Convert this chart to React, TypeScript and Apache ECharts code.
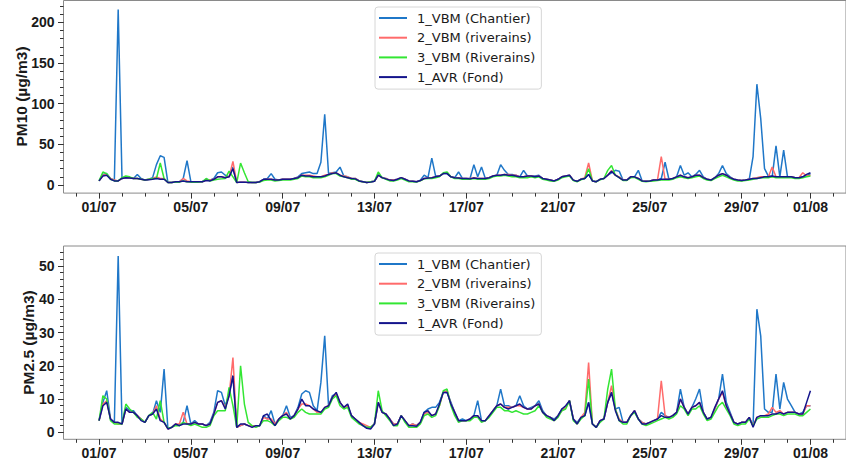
import React, { useEffect, useRef } from "react";
import * as echarts from "echarts";

// 4-hour samples (6 per day) from 01/07 00:00 to 01/08 00:00 (187 values)
const seriesNames = ["1_VBM (Chantier)", "2_VBM (riverains)", "3_VBM (Riverains)", "1_AVR (Fond)"];
const seriesColors = ["#1f77c8", "#ff6b6b", "#33e633", "#14148c"];

const xTickDays = [0, 4, 8, 12, 16, 20, 24, 28, 31];
const xTickLabels = ["01/07", "05/07", "09/07", "13/07", "17/07", "21/07", "25/07", "29/07", "01/08"];
const pm10Ticks = [0, 50, 100, 150, 200];
const pm25Ticks = [0, 10, 20, 30, 40, 50];

const pm10_vbm1 = [
  5, 13, 14, 8, 6, 216,
  8, 9, 9, 8, 13, 8,
  6, 7, 9, 25, 36, 34,
  3, 3, 4, 4, 8, 30,
  4, 4, 4, 4, 7, 6,
  8, 15, 16, 12, 10, 22,
  3, 3.5, 3.5, 3, 3, 3,
  4, 7, 8, 14, 7, 6,
  7, 7, 7, 8, 10, 14,
  15, 16, 14, 14, 28, 87,
  14, 15, 16, 22, 11, 10,
  8, 8, 5, 4, 3, 4,
  4.5, 12, 9, 8, 6, 6,
  7, 9, 7, 5, 4.5, 4,
  6, 12, 9, 33, 11, 11,
  14, 14, 10, 9, 16, 8,
  8, 8, 25, 10, 22, 8,
  9, 11, 12, 25, 18, 13,
  13, 12, 10, 18, 11, 11,
  11, 12, 8, 7, 6, 5,
  7, 10, 11, 12, 6, 4.5,
  7, 8, 13, 5, 4, 7,
  8, 12, 15, 18, 17, 6,
  6, 10, 10, 18, 5, 4.5,
  5, 6, 6, 8, 28, 7,
  8, 10, 24, 12, 15, 10,
  13, 18, 10, 7, 6, 9,
  14, 24, 14, 10, 7, 6,
  5.5, 6, 7, 35, 124, 82,
  20, 11, 10, 48, 10, 43,
  10, 10, 9, 9, 10, 11,
  14,
];
const pm10_vbm2 = [
  5, 12, 13, 8, 6, 5,
  8, 9, 9, 8, 8, 7,
  6, 7, 8, 10, 8, 8,
  3, 3, 4, 4, 8, 5,
  4, 4, 4, 4, 6, 6,
  7, 10, 10, 9, 10, 29,
  3, 3.5, 3.5, 3, 3, 3,
  4, 6.5, 7, 7, 6, 6,
  7, 7, 7, 8, 9, 12,
  12, 12, 11, 10, 10, 12,
  13, 15, 15, 12, 11, 10,
  8, 8, 5, 4, 3, 4,
  4.5, 12, 9, 8, 6, 6,
  7, 9, 7, 5, 4.5, 4,
  5.5, 8, 8.5, 9, 10, 11,
  14, 15, 10, 9, 9, 8,
  8, 8, 9, 8, 8, 8,
  9, 11, 12, 12, 13, 13,
  12, 12, 10, 10, 11, 11,
  10, 11, 8, 7, 6, 5,
  7, 10, 11, 12, 6, 4.5,
  7, 9, 27, 5, 4, 7,
  8, 12, 18, 12, 10, 6,
  6, 10, 10, 8, 5, 4.5,
  5, 6, 6, 35, 7, 7,
  8, 10, 12, 10, 9, 10,
  12, 12, 9, 7, 6, 9,
  12, 14, 12, 9, 7, 6,
  5.5, 6, 7, 8, 9, 10,
  10, 10, 22, 10, 10, 10,
  10, 10, 9, 9, 15, 11,
  12,
];
const pm10_vbm3 = [
  5, 16, 14, 7, 5, 5,
  9, 11, 10, 8, 8, 7,
  6, 7, 8, 8, 27, 8,
  3, 3, 3.5, 3.5, 5, 4,
  3.5, 3.5, 3.5, 4, 8, 5,
  6, 7, 7.5, 8, 17, 10,
  3, 27, 15, 4, 3, 3,
  3.5, 5.5, 6, 6, 5, 5.5,
  6, 6, 6, 7, 8, 11,
  10, 10, 9, 9, 9, 10,
  12, 14, 14, 11, 10, 9,
  7, 7, 4.5, 4, 3, 4,
  4.5, 16, 9, 7, 5, 5,
  6, 8, 6, 4, 4, 3.5,
  5, 7.5, 8, 8, 9, 10,
  15, 16, 10, 8, 8, 7,
  7, 7, 8, 7, 7, 7,
  8, 10, 11, 11, 12, 11,
  10, 10, 9, 9, 9, 10,
  9, 10, 7, 6, 5, 4.5,
  6, 9, 10, 11, 5.5, 4,
  6.5, 8, 20, 5, 4, 6.5,
  8, 18, 24, 12, 9, 5.5,
  5.5, 9, 9.5, 7, 4.5, 4,
  4.5, 5, 5.5, 6, 6, 6,
  7, 9, 10, 9, 8, 9,
  10, 11, 8, 6, 5.5, 8,
  10, 12, 10, 8, 6, 5,
  5, 5.5, 6, 7, 8, 9,
  9, 9, 10, 9, 9, 9,
  9, 9, 8, 8, 9, 10,
  11,
];
const pm10_avr1 = [
  5, 11, 12, 7, 5, 5,
  8, 9, 8.5, 8, 8, 7,
  6, 6.5, 7, 8, 7, 7,
  3, 3, 4, 4, 5, 4,
  4, 4, 4, 4, 5.5, 5,
  7, 10, 10, 9, 10, 20,
  3, 3.5, 3.5, 3, 3, 3,
  4, 7, 7, 7, 6, 6,
  7, 7, 7, 8, 9, 12,
  11, 11, 10, 10, 10, 11,
  13, 14, 15, 12, 10, 9,
  8, 7.5, 5, 4, 3, 3.5,
  4.5, 12, 9, 7.5, 6, 5.5,
  7, 9, 7, 5, 4.5, 4,
  5.5, 8, 8.5, 9, 10, 11,
  14, 14, 10, 9, 8.5, 8,
  8, 7.5, 8.5, 8, 8, 8,
  9, 11, 12, 12, 13, 12,
  12, 11, 10, 10, 11, 11,
  10, 11, 8, 7, 6, 5,
  7, 10, 11, 12, 6, 4.5,
  7, 8, 13, 5, 4, 7,
  8, 12, 17, 12, 9, 6,
  6, 10, 10, 8, 5, 4.5,
  5, 6, 6, 7, 7, 7,
  8, 10, 12, 10, 9, 10,
  12, 12, 9, 7, 6, 9,
  12, 14, 12, 9, 7, 6,
  5.5, 6, 7, 8, 8, 9,
  10, 10, 11, 10, 10, 10,
  10, 10, 9, 9, 10, 13,
  15,
];

const pm25_vbm1 = [
  3.5, 9, 12.5, 4, 3, 53,
  2.5, 7.5, 6.5, 6.5, 5, 4,
  3, 5, 5.5, 9.5, 6, 19,
  1, 1.5, 2.5, 2, 3, 8,
  2.5, 3.5, 2.5, 2.5, 2, 3,
  6, 12.5, 12, 8, 11.5, 17,
  1.5, 2, 2.5, 2, 2, 2,
  2, 5, 4, 6.5, 2.5, 4,
  5, 8, 4.5, 5, 7.5, 11.5,
  12.5, 12, 8, 6.5, 15, 29,
  8, 11, 11.5, 9, 7.5, 8,
  5, 4, 3, 2, 1.5, 1.5,
  2.5, 9, 6, 5.5, 4, 2.5,
  2.5, 5, 3.5, 2, 2.5, 2,
  3, 6, 7, 7.5, 7.5, 9,
  12, 12, 9, 6, 3.5, 4,
  3.5, 4, 5, 9.5, 3.5, 3.5,
  5, 6.5, 8, 13, 8, 8,
  7.5, 8, 11, 8, 7, 7.5,
  8, 9.5, 6.5, 5, 4.5, 4,
  5, 7, 7.5, 9.5, 4, 3,
  4.5, 5, 9, 2.5, 1.5, 3.5,
  4, 9, 12, 7, 7.5, 3,
  3, 5, 6.5, 4, 3, 2.5,
  3, 3.5, 4, 6, 5, 4.5,
  5, 6, 13, 7.5, 5.5, 7.5,
  10, 13, 6, 4, 4.5, 7,
  10, 17.5, 9, 6, 3, 2.5,
  3, 3, 4.5, 2, 37, 29,
  7, 6, 6, 17.5, 7, 15,
  10, 8, 6, 5.5, 6, 8,
  8,
];
const pm25_vbm2 = [
  3.5, 8.5, 9.5, 4, 3, 2.5,
  2.5, 7, 6, 6, 5, 4,
  3, 5, 5.5, 8, 4, 3,
  1, 1.5, 2.5, 2.5, 6, 2.5,
  2.5, 3, 2.5, 2.5, 2, 2.5,
  5.5, 9, 9.5, 7.5, 11, 22.5,
  1.5, 2, 2.5, 2, 2, 2,
  2, 4.5, 4, 4, 2.5, 4,
  5, 6, 4, 5, 7, 8.5,
  8.5, 8, 7, 6, 6, 7.5,
  8, 10.5, 11.5, 9, 7.5, 8,
  5, 4, 3, 2.5, 2, 1.5,
  2.5, 9, 6, 5.5, 4, 2.5,
  2.5, 5, 3.5, 2, 2.5, 2,
  3, 5.5, 6, 5, 5.5, 8,
  12, 12.5, 8.5, 6, 3.5, 3.5,
  3.5, 4, 5, 5, 3.5, 3.5,
  5, 6.5, 8, 8.5, 7.5, 7.5,
  7.5, 8, 8, 7.5, 7, 7,
  8, 8.5, 6, 5, 4.5, 3.5,
  5, 6.5, 7.5, 9.5, 4, 2.5,
  4.5, 6, 21, 2.5, 1.5, 3.5,
  4, 9, 14, 7, 4, 3,
  3, 5, 6.5, 4, 3, 2.5,
  3, 3.5, 4, 15.5, 5, 4.5,
  5, 6, 10, 7.5, 5.5, 7.5,
  8, 9, 6, 4, 4.5, 7,
  10, 12, 8, 5.5, 3, 2.5,
  3, 3, 4.5, 2, 4.5, 5,
  5, 5.5, 7.5, 6, 6.5, 5.5,
  6, 6, 6, 5.5, 5.5, 8,
  8,
];
const pm25_vbm3 = [
  3.5, 11, 10, 3.5, 2.5, 2.5,
  2.5, 8.5, 7, 6, 4.5, 4,
  3, 5, 6, 4, 9.5, 3,
  1.2, 1.5, 2, 2, 3, 2.5,
  2, 2.5, 2, 1.5, 1.5, 2,
  5, 6.5, 6.5, 6.5, 13.5, 8,
  1.5, 20, 8.5, 3, 2, 1.5,
  2, 3.5, 3.5, 3, 2, 3.5,
  4.5, 4.5, 4, 4.5, 6, 7,
  6, 5.5, 5.5, 5.5, 5.5, 7,
  7.5, 10, 11, 8, 7, 7.5,
  4.5, 3.5, 2.5, 2, 1.5, 1.5,
  2.5, 12.5, 6.5, 5, 3.5, 2,
  2, 5, 3, 1.5, 1.5, 1.5,
  2.5, 5, 5.5, 4.5, 5, 8,
  12.5, 13, 8, 5, 3, 3.5,
  3.5, 3.5, 4.5, 4.5, 3, 3.5,
  4.5, 6, 7.5, 7.5, 6.5, 6.5,
  6, 6.5, 6, 5.5, 5.5, 6,
  6.5, 8, 6, 4.5, 4, 3.5,
  4.5, 6.5, 7, 9.5, 3.5, 2.5,
  4, 5, 16, 2.5, 1.5, 3,
  4, 13, 19, 7, 3.5, 2.5,
  2.5, 5, 6, 4, 2.5, 2,
  2.5, 3, 3.5, 4, 4.5, 4,
  4.5, 5.5, 8, 7, 5, 7,
  7, 8, 5.5, 3.5, 4, 6,
  8, 9, 7, 5, 2.5, 2,
  2.5, 2.5, 4, 2, 4, 4.5,
  4.5, 4.5, 5, 5.5, 5.5, 5,
  5.5, 5.5, 5.5, 5, 5, 6,
  7,
];
const pm25_avr1 = [
  3.5, 8, 9, 4, 3, 3,
  2.5, 7, 6, 6, 5, 3.5,
  3, 5, 5.5, 7, 3.5, 3,
  1, 1.5, 2.5, 2, 2.5, 2.5,
  2.5, 3, 2.5, 2.5, 2, 2.5,
  5.5, 9, 9.5, 7, 11, 17,
  1.5, 2.5, 2.5, 2, 1.5, 2,
  2, 5, 5.5, 3.5, 2, 4,
  5, 5.5, 4, 5, 7, 10,
  8, 8, 7, 6.5, 6, 7.5,
  8, 10.5, 12, 9, 7.5, 8.5,
  5, 4, 3, 2, 1.2, 1,
  2.5, 9, 6, 5.5, 4, 2,
  2.5, 5, 3.5, 2, 2, 1.8,
  3, 6, 6.5, 5, 5.5, 8.5,
  12, 12, 8.5, 6, 3.5, 3.5,
  3.5, 4, 5, 5, 3.5, 3.5,
  5, 6.5, 8, 8.5, 7.5, 7,
  7.5, 8, 8.5, 7.5, 7, 7,
  8, 8.5, 6, 5, 4.5, 3.5,
  5, 7, 8, 9.5, 4, 2.5,
  4.5, 5, 9, 2.5, 1.5, 3.5,
  4, 9, 12, 6.5, 3.5, 3,
  3, 5, 6.5, 4, 2.5, 2.5,
  3, 3.5, 4, 5, 4.5, 4.5,
  5, 6, 10, 7.5, 5.5, 7.5,
  8, 9, 6, 4, 4.5, 7.5,
  10, 12.5, 8, 5.5, 3, 2.5,
  3, 3, 4.5, 1.5, 4.5, 5,
  5, 5, 5.5, 5.5, 6, 5.5,
  6, 6, 6, 5.5, 5.5, 9,
  12.5,
];

const pm10Series = [pm10_vbm1, pm10_vbm2, pm10_vbm3, pm10_avr1];
const pm25Series = [pm25_vbm1, pm25_vbm2, pm25_vbm3, pm25_avr1];

const toPoints = (vals: number[]) => vals.map((v, i) => [i / 6, v]);

const range = (a: number, b: number, s: number) => {
  const out: number[] = [];
  for (let v = a; v <= b + 1e-9; v += s) out.push(v);
  return out;
};

const TICK_FONT = '"Liberation Sans", Arial, sans-serif';
const LEGEND_FONT = '"DejaVu Sans", sans-serif';
const X_MIN = -1.55;
const X_MAX = 32.55;

function makeXAxes(gridIndex: number) {
  return [
    {
      type: "value",
      gridIndex,
      position: "bottom",
      min: X_MIN,
      max: X_MAX,
      axisLine: { show: false, onZero: false },
      splitLine: { show: false },
      axisTick: { show: true, customValues: xTickDays, length: 5.5, lineStyle: { color: "#333", width: 1 } },
      axisLabel: {
        customValues: xTickDays,
        formatter: (v: number) => {
          const k = xTickDays.indexOf(Math.round(v));
          return k >= 0 ? xTickLabels[k] : "";
        },
        fontFamily: TICK_FONT,
        fontWeight: "bold",
        fontSize: 14,
        color: "#1a1a1a",
        margin: 7,
      },
    },
    {
      type: "value",
      gridIndex,
      position: "bottom",
      min: X_MIN,
      max: X_MAX,
      axisLine: { show: false, onZero: false },
      splitLine: { show: false },
      axisTick: { show: true, customValues: range(-1, 32, 1), length: 3.5, lineStyle: { color: "#333", width: 1 } },
      axisLabel: { show: false },
    },
  ];
}

function makeYAxes(gridIndex: number, min: number, max: number, ticks: number[], minorStep: number, minorMax: number) {
  return [
    {
      type: "value",
      gridIndex,
      position: "left",
      min,
      max,
      axisLine: { show: false, onZero: false },
      splitLine: { show: false },
      axisTick: { show: true, customValues: ticks, length: 5.5, lineStyle: { color: "#333", width: 1 } },
      axisLabel: {
        customValues: ticks,
        fontFamily: TICK_FONT,
        fontWeight: "bold",
        fontSize: 14,
        color: "#1a1a1a",
        margin: 9,
      },
    },
    {
      type: "value",
      gridIndex,
      position: "left",
      min,
      max,
      axisLine: { show: false, onZero: false },
      splitLine: { show: false },
      axisTick: { show: true, customValues: range(0, minorMax, minorStep), length: 3.5, lineStyle: { color: "#333", width: 1 } },
      axisLabel: { show: false },
    },
  ];
}

function makeLegend(top: number) {
  return {
    orient: "vertical",
    left: 375,
    top,
    padding: [4, 6, 5, 4],
    itemGap: 5.7,
    itemWidth: 28,
    itemHeight: 2,
    icon: "rect",
    backgroundColor: "rgba(255,255,255,0.85)",
    borderColor: "#d6d6d6",
    borderWidth: 1,
    borderRadius: 3,
    data: seriesNames,
    textStyle: {
      fontFamily: LEGEND_FONT,
      fontSize: 13,
      lineHeight: 14,
      color: "#1a1a1a",
      padding: [0, 0, 0, 5],
    },
  };
}

export default function App() {
  const ref = useRef<HTMLDivElement>(null);

  useEffect(() => {
    if (!ref.current) return;
    const chart = echarts.init(ref.current, null, { renderer: "svg" });

    const series: any[] = [];
    pm10Series.forEach((vals, k) => {
      series.push({
        type: "line",
        name: seriesNames[k],
        xAxisIndex: 0,
        yAxisIndex: 0,
        data: toPoints(vals),
        showSymbol: false,
        symbol: "none",
        lineStyle: { color: seriesColors[k], width: 1.5 },
        itemStyle: { color: seriesColors[k] },
        z: 2 + k,
      });
    });
    pm25Series.forEach((vals, k) => {
      series.push({
        type: "line",
        name: seriesNames[k],
        xAxisIndex: 2,
        yAxisIndex: 2,
        data: toPoints(vals),
        showSymbol: false,
        symbol: "none",
        lineStyle: { color: seriesColors[k], width: 1.5 },
        itemStyle: { color: seriesColors[k] },
        z: 2 + k,
      });
    });

    chart.setOption({
      animation: false,
      backgroundColor: "#ffffff",
      grid: [
        { left: 63.5, top: 0.5, width: 788.7, height: 192.6, show: true, borderColor: "#8a8a8a", borderWidth: 1, backgroundColor: "transparent" },
        { left: 63.5, top: 246, width: 788.7, height: 193.3, show: true, borderColor: "#8a8a8a", borderWidth: 1, backgroundColor: "transparent" },
      ],
      xAxis: [...makeXAxes(0), ...makeXAxes(1)],
      yAxis: [
        ...makeYAxes(0, -10, 227, pm10Ticks, 10, 220),
        ...makeYAxes(1, -2.1, 56, pm25Ticks, 2, 54),
      ],
      legend: [makeLegend(7), makeLegend(253)],
      series,
      graphic: [
        {
          type: "text",
          x: 21,
          y: 96.5,
          rotation: Math.PI / 2,
          style: {
            text: "PM10 (µg/m3)",
            fontFamily: TICK_FONT,
            fontWeight: "bold",
            fontSize: 15.5,
            fill: "#1a1a1a",
            align: "center",
            verticalAlign: "middle",
            textAlign: "center",
            textVerticalAlign: "middle",
          },
        },
        {
          type: "text",
          x: 28.5,
          y: 342.5,
          rotation: Math.PI / 2,
          style: {
            text: "PM2.5 (µg/m3)",
            fontFamily: TICK_FONT,
            fontWeight: "bold",
            fontSize: 15.5,
            fill: "#1a1a1a",
            align: "center",
            verticalAlign: "middle",
            textAlign: "center",
            textVerticalAlign: "middle",
          },
        },
      ],
    });

    return () => chart.dispose();
  }, []);

  return (
    <div
      ref={ref}
      style={{ position: "absolute", left: 0, top: 0, width: 846, height: 464 }}
    />
  );
}
